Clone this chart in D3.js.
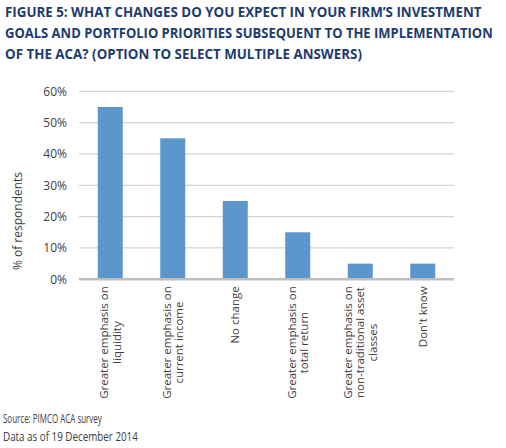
<!DOCTYPE html>
<html>
<head>
<meta charset="utf-8">
<script src="https://cdn.jsdelivr.net/npm/d3@7"></script>
<style>
  html, body { margin: 0; padding: 0; background: #fff; }
  svg { display: block; font-family: "Open Sans", "Noto Sans", sans-serif; }
</style>
</head>
<body>
<svg id="chart" width="506" height="448"></svg>
<script>
const titleLines = [
  "FIGURE 5: WHAT CHANGES DO YOU EXPECT IN YOUR FIRM\u2019S INVESTMENT",
  "GOALS AND PORTFOLIO PRIORITIES SUBSEQUENT TO THE IMPLEMENTATION",
  "OF THE ACA? (OPTION TO SELECT MULTIPLE ANSWERS)"
];
const categories = [
  ["Greater emphasis on", "liquidity"],
  ["Greater emphasis on", "current income"],
  ["No change"],
  ["Greater emphasis on", "total return"],
  ["Greater emphasis on", "non-traditional asset", "classes"],
  ["Don't know"]
];
const values = [55, 45, 25, 15, 5, 5];
const yTicks = [0, 10, 20, 30, 40, 50, 60];
const yAxisLabel = "% of respondents";
const sourceLines = ["Source: PIMCO ACA survey", "Data as of 19 December 2014"];

const svg = d3.select("#chart");
const m = { left: 79, right: 454, top: 91.3, bottom: 279.3 };
const keys = categories.map((c, i) => i);

const x = d3.scaleBand().domain(keys).range([m.left, m.right]).paddingInner(0.6).paddingOuter(0.3);
const y = d3.scaleLinear().domain([0, 60]).range([m.bottom, m.top]);

// horizontally condense a text to a target width
function condense(sel, targetW, x0, y0) {
  sel.each(function(d, i) {
    const w = this.getComputedTextLength();
    const tw = typeof targetW === "function" ? targetW(d, i) : targetW;
    const s = Math.min(1, tw / w);
    const yy = typeof y0 === "function" ? y0(d, i) : y0;
    d3.select(this).attr("x", 0).attr("y", 0)
      .attr("transform", "translate(" + x0 + "," + yy + ") scale(" + s + ",1)");
  });
}

// title
const titleWidths = [477, 488, 357];
const tt = svg.append("g").selectAll("text").data(titleLines).join("text")
  .attr("font-size", 14.5).attr("font-weight", 700).attr("fill", "#1d3c6e")
  .text(d => d);
condense(tt, (d, i) => titleWidths[i], 5, (d, i) => 17 + i * 21);

// gridlines
svg.append("g").selectAll("line").data(yTicks.filter(t => t > 0)).join("line")
  .attr("x1", m.left).attr("x2", m.right)
  .attr("y1", d => y(d)).attr("y2", d => y(d))
  .attr("stroke", "#d4d4d4").attr("stroke-width", 1.3);

// y tick labels
svg.append("g").selectAll("text").data(yTicks).join("text")
  .attr("x", 67).attr("y", d => y(d)).attr("dy", "0.36em")
  .attr("text-anchor", "end").attr("font-size", 12).attr("fill", "#404040")
  .text(d => d + "%");

// y axis label
svg.append("text")
  .attr("transform", "translate(22," + 221 + ") rotate(-90)")
  .attr("text-anchor", "middle").attr("font-size", 12).attr("fill", "#404040")
  .text(yAxisLabel);

// bars
svg.append("g").selectAll("rect").data(values).join("rect")
  .attr("x", (d, i) => x(i)).attr("width", x.bandwidth())
  .attr("y", d => y(d)).attr("height", d => y(0) - y(d))
  .attr("fill", "#5b96cc");

// baseline axis
svg.append("line")
  .attr("x1", m.left).attr("x2", m.right).attr("y1", y(0)).attr("y2", y(0))
  .attr("stroke", "#bdbdbd").attr("stroke-width", 2.4);

// category labels
const lineH = 12.5;
const catG = svg.append("g").selectAll("g").data(categories).join("g")
  .attr("transform", (d, i) => "translate(" + (x(i) + x.bandwidth() / 2) + "," + (y(0) + 7) + ") rotate(-90)");
catG.each(function(lines) {
  const g = d3.select(this);
  const ts = g.selectAll("text").data(lines).join("text")
    .attr("font-size", 11.5).attr("fill", "#404040").attr("text-anchor", "middle")
    .attr("y", (d, i) => (i - (lines.length - 1) / 2) * lineH).attr("dy", "0.36em")
    .text(d => d);
  let maxW = 0;
  ts.each(function() { maxW = Math.max(maxW, this.getComputedTextLength()); });
  ts.attr("x", -maxW / 2);
});

// source
const st = svg.append("g").selectAll("text").data(sourceLines).join("text")
  .attr("font-size", 12.5).attr("fill", "#404040")
  .text(d => d);
condense(st, (d, i) => [99, 135][i], 3, (d, i) => 423 + i * 18);
</script>
</body>
</html>
